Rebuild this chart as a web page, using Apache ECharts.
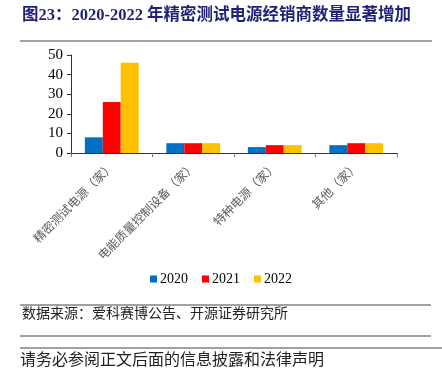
<!DOCTYPE html>
<html><head><meta charset="utf-8">
<script src="https://cdn.jsdelivr.net/npm/echarts@6/dist/echarts.min.js"></script>
<style>html,body{margin:0;padding:0;background:#fff}#c{width:442px;height:368px}</style>
</head><body><div id="c"></div>
<script>
const categories = ['精密测试电源（家）', '电能质量控制设备（家）', '特种电源（家）', '其他（家）'];
const seriesNames = ['2020', '2021', '2022'];
const v2020 = [8, 5, 3, 4];
const v2021 = [26, 5, 4, 5];
const v2022 = [46, 5, 4, 5];
const colors = ['#0070C0', '#FF0000', '#FFC000'];
const titleText = '图23：2020-2022 年精密测试电源经销商数量显著增加';
const sourceText = '数据来源：爱科赛博公告、开源证券研究所';
const footerText = '请务必参阅正文后面的信息披露和法律声明';

const serif = '"Liberation Serif", "Noto Sans CJK SC", serif';
const chart = echarts.init(document.getElementById('c'), null, {renderer: 'canvas'});
const data = [v2020, v2021, v2022];
chart.setOption({
  animation: false,
  backgroundColor: '#fff',
  grid: {left: 71, right: 45, top: 55, bottom: 215, containLabel: false},
  legend: {
    data: seriesNames, bottom: 77, left: 'center',
    itemWidth: 7, itemHeight: 7, itemGap: 14, icon: 'rect',
    textStyle: {fontFamily: serif, fontSize: 14, color: '#000', padding: [0,0,0,-2]}
  },
  xAxis: {
    type: 'category', data: categories,
    axisLine: {lineStyle: {color: '#333', width: 1}},
    axisTick: {show: true, length: 4, lineStyle: {color: '#777'}},
    axisLabel: {rotate: 45, interval: 0, fontFamily: '"Noto Sans CJK SC"', fontSize: 12, color: '#595959', margin: 11}
  },
  yAxis: {
    type: 'value', min: 0, max: 50, interval: 10,
    splitLine: {show: false},
    axisLine: {show: true, lineStyle: {color: '#333'}},
    axisTick: {show: true, inside: false, length: 4, lineStyle: {color: '#333'}},
    axisLabel: {fontFamily: serif, fontSize: 15, color: '#000', margin: 8}
  },
  series: seriesNames.map((n, i) => ({
    name: n, type: 'bar', data: data[i], barGap: '0%', barCategoryGap: '34%',
    itemStyle: {color: colors[i]}
  })),
  graphic: [
    {type: 'text', left: 22, top: 7, style: {text: titleText, font: 'bold 16.5px "Liberation Serif", "Noto Sans CJK SC"', fill: '#1F1F7A'}},
    {type: 'line', shape: {x1: 20, y1: 41, x2: 432, y2: 41}, style: {stroke: '#444', lineWidth: 1}},
    {type: 'line', shape: {x1: 20, y1: 305, x2: 431, y2: 305}, style: {stroke: '#444', lineWidth: 1}},
    {type: 'text', left: 22, top: 306, style: {text: sourceText, font: '14px "Noto Sans CJK SC"', fill: '#222'}},
    {type: 'line', shape: {x1: 20, y1: 336, x2: 431, y2: 336}, style: {stroke: '#444', lineWidth: 1}},
    {type: 'line', shape: {x1: 20, y1: 348, x2: 442, y2: 348}, style: {stroke: '#444', lineWidth: 1}},
    {type: 'text', left: 20, top: 351, style: {text: footerText, font: '16px "Noto Sans CJK SC"', fill: '#222'}}
  ]
});
</script></body></html>
